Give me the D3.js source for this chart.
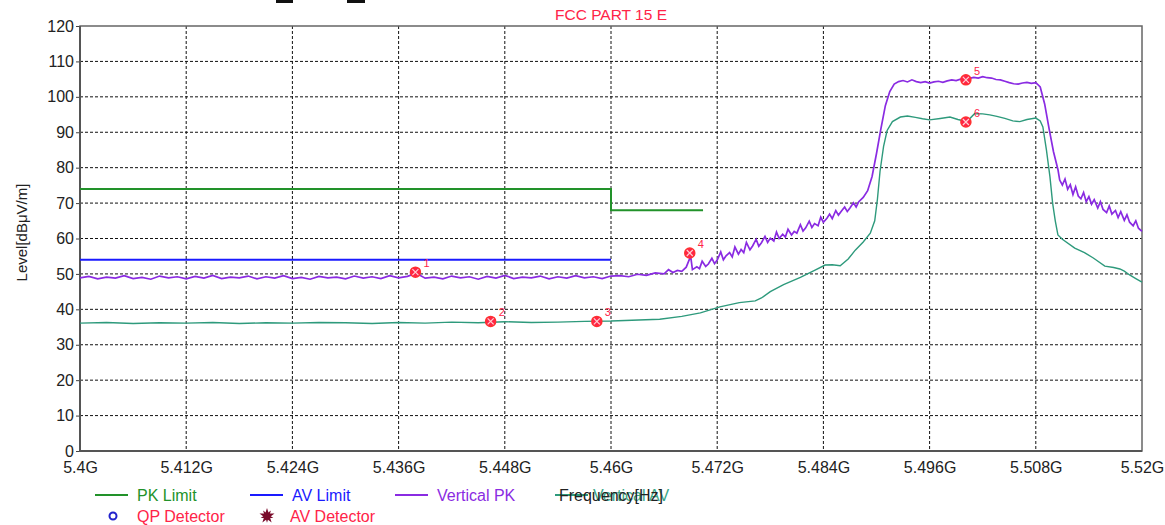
<!DOCTYPE html>
<html><head><meta charset="utf-8">
<script src="https://cdn.jsdelivr.net/npm/d3@7"></script>
<style>
html,body{margin:0;padding:0;background:#fff;}
svg{display:block;font-family:"Liberation Sans",Arial,sans-serif;}
</style></head>
<body><svg id="c" width="1165" height="525"></svg>
<script>
// ---- data (frequency in GHz, level in dBµV/m) ----
const titleText = "FCC PART 15 E";
const xTicks = [5.4,5.412,5.424,5.436,5.448,5.46,5.472,5.484,5.496,5.508,5.52];
const xTickLabels = ["5.4G","5.412G","5.424G","5.436G","5.448G","5.46G","5.472G","5.484G","5.496G","5.508G","5.52G"];
const yTicks = [0,10,20,30,40,50,60,70,80,90,100,110,120];

const pkLimit = [[5.4,74],[5.46,74],[5.46,68],[5.4704,68]];
const avLimit = [[5.4,54],[5.46,54]];

const verticalPK = [
[5.400,48.9],[5.401,49.3],[5.402,48.6],[5.403,49.1],[5.404,48.8],[5.405,49.5],[5.406,48.7],[5.407,49.0],[5.408,48.5],[5.409,49.4],
[5.410,48.9],[5.411,49.2],[5.412,48.6],[5.413,49.3],[5.414,48.8],[5.415,49.6],[5.416,48.7],[5.417,49.1],[5.418,48.9],[5.419,49.4],
[5.420,48.6],[5.421,49.2],[5.422,48.8],[5.423,49.5],[5.424,48.7],[5.425,49.0],[5.426,48.5],[5.427,49.3],[5.428,48.9],[5.429,49.1],
[5.430,48.6],[5.431,49.4],[5.432,48.8],[5.433,49.2],[5.434,48.7],[5.435,49.5],[5.436,48.9],[5.437,49.3],[5.438,50.2],[5.439,48.8],
[5.440,49.1],[5.441,48.6],[5.442,49.4],[5.443,48.9],[5.444,49.2],[5.445,48.5],[5.446,49.3],[5.447,48.8],[5.448,49.6],[5.449,48.7],
[5.450,49.1],[5.451,48.9],[5.452,49.4],[5.453,48.6],[5.454,49.2],[5.455,48.8],[5.456,49.5],[5.457,48.9],[5.458,49.2],[5.459,48.7],
[5.460,49.4],[5.461,49.5],[5.462,49.2],[5.463,49.9],[5.464,49.6],[5.465,50.3],[5.466,50.0],[5.4665,51.2],[5.467,50.4],[5.4675,51.0],
[5.468,50.7],[5.4685,51.9],[5.469,55.0],[5.4692,51.2],[5.4697,52.0],[5.470,51.5],[5.4703,53.6],[5.4707,52.1],[5.471,52.8],[5.4714,54.4],
[5.4717,52.9],[5.472,53.9],[5.4724,56.2],[5.4727,54.0],[5.473,55.1],[5.4734,56.0],[5.4737,54.8],[5.474,57.6],[5.4744,55.6],[5.4747,56.9],
[5.475,56.0],[5.4753,58.9],[5.4757,56.8],[5.476,57.9],[5.4764,59.8],[5.4767,57.8],[5.477,58.8],[5.4774,60.6],[5.4777,58.9],[5.478,60.1],
[5.4784,59.3],[5.4787,61.8],[5.479,60.0],[5.4794,61.2],[5.4797,60.4],[5.480,62.6],[5.4804,61.0],[5.4807,62.0],[5.481,61.5],[5.4814,63.9],
[5.4817,62.1],[5.482,63.0],[5.4824,64.9],[5.4827,63.1],[5.483,64.2],[5.4834,63.6],[5.4837,66.0],[5.484,64.6],[5.4844,65.7],[5.4847,66.9],
[5.485,65.6],[5.4854,67.9],[5.4857,66.6],[5.486,67.6],[5.4864,68.9],[5.4867,67.6],[5.487,68.6],[5.4874,70.1],[5.4877,68.9],[5.488,70.4],
[5.4885,71.6],[5.489,73.5],[5.4895,77.5],[5.490,84.0],[5.4905,91.0],[5.491,97.5],[5.4915,101.5],[5.492,103.6],
[5.4925,104.3],[5.493,104.6],[5.4935,104.2],[5.494,104.8],[5.4945,104.3],[5.495,104.0],[5.4955,104.3],[5.496,103.9],[5.4965,104.2],[5.497,104.4],
[5.4975,104.1],[5.498,104.5],[5.4985,104.8],[5.499,104.6],[5.4995,105.0],[5.500,104.8],[5.5005,105.2],[5.501,105.5],[5.5015,105.3],[5.502,105.7],
[5.5025,105.4],[5.503,105.3],[5.5035,104.9],[5.504,104.8],[5.5045,104.4],[5.505,104.0],[5.5055,103.7],[5.506,103.6],[5.5065,103.9],[5.507,104.1],
[5.5075,103.8],[5.508,104.0],[5.5085,102.8],[5.509,98.0],[5.5095,91.0],[5.510,84.5],[5.5105,79.5],[5.5107,76.5],[5.5110,75.1],[5.5113,76.8],
[5.5116,73.9],[5.5119,75.2],[5.5122,72.4],[5.5125,74.6],[5.5128,72.0],[5.5131,71.2],[5.5134,73.0],[5.5137,70.4],[5.514,71.8],[5.5143,69.7],
[5.5146,71.0],[5.515,68.6],[5.5153,70.4],[5.5156,68.2],[5.516,67.3],[5.5163,69.2],[5.5166,66.9],[5.517,67.9],[5.5173,65.9],[5.5176,67.6],
[5.518,65.1],[5.5183,66.7],[5.5186,64.6],[5.519,63.6],[5.5193,65.0],[5.5196,62.9],[5.520,62.0]
];

const verticalAV = [
[5.400,36.1],[5.403,36.3],[5.406,36.0],[5.409,36.2],[5.412,36.1],[5.415,36.3],[5.418,36.0],[5.421,36.2],[5.424,36.1],[5.427,36.3],
[5.430,36.2],[5.433,36.0],[5.436,36.3],[5.439,36.1],[5.442,36.4],[5.445,36.2],[5.448,36.5],[5.451,36.3],[5.454,36.4],[5.457,36.6],
[5.460,36.7],[5.4655,37.2],[5.468,38.0],[5.4701,39.0],[5.4723,40.7],[5.4745,41.9],[5.4763,42.4],[5.477,43.2],[5.478,45.0],[5.4795,47.0],
[5.4814,49.0],[5.483,51.0],[5.4842,52.5],[5.485,52.6],[5.4859,52.3],[5.4868,54.2],[5.4876,56.7],[5.4885,59.0],[5.4893,61.5],[5.4898,65.0],
[5.4901,71.0],[5.4904,79.0],[5.4908,86.0],[5.4912,90.5],[5.4918,93.0],[5.4927,94.3],[5.4935,94.6],[5.4944,94.2],[5.4952,93.8],[5.496,93.5],
[5.4972,93.9],[5.4983,94.3],[5.4992,93.6],[5.500,93.1],[5.5006,94.0],[5.5011,95.3],[5.502,95.2],[5.5028,94.9],[5.5036,94.5],[5.5045,93.9],
[5.5054,93.2],[5.5062,93.0],[5.507,93.6],[5.508,94.0],[5.5085,93.2],[5.5088,91.5],[5.5092,85.0],[5.5096,77.4],[5.5099,70.0],[5.5102,65.0],
[5.5105,61.0],[5.511,59.8],[5.5124,57.3],[5.5135,56.0],[5.5145,54.5],[5.5158,52.2],[5.5168,51.8],[5.5175,51.4],[5.518,50.8],[5.5186,49.7],
[5.5193,48.7],[5.520,47.7]
];

const markerIds = ["1","2","3","4","5","6"];
const markerFreq = [5.4379,5.4464,5.4584,5.4689,5.5001,5.5001];
const markerLevel = [50.5,36.6,36.6,55.9,104.8,92.9];

const legendRow1 = ["PK Limit","AV Limit","Vertical PK","Vertical AV"];
const legendRow2 = ["QP Detector","AV Detector"];

// ---- drawing ----
const svg = d3.select("#c");
const L = 80, R = 1142, T = 26, B = 451;
const x = d3.scaleLinear().domain([5.4, 5.52]).range([L, R]);
const y = d3.scaleLinear().domain([0, 120]).range([B, T]);

const col = {pk:"#22922a", av:"#1a1aff", vpk:"#8a2be2", vav:"#2e9a7c", red:"#ff2448"};

// stray marks at very top
svg.append("rect").attr("x",276).attr("y",0).attr("width",17).attr("height",3).attr("fill","#111");
svg.append("rect").attr("x",347).attr("y",0).attr("width",18).attr("height",3).attr("fill","#111");

// title
svg.append("text").attr("x",(L+R)/2).attr("y",20).attr("text-anchor","middle")
  .attr("font-size",15.5).attr("fill",col.red).text(titleText);

// grid
const grid = svg.append("g");
grid.selectAll("line.gy").data(yTicks.filter(d=>d>0&&d<120)).join("line")
  .attr("x1",L).attr("x2",R).attr("y1",d=>y(d)).attr("y2",d=>y(d))
  .attr("stroke","#111").attr("stroke-width",1).attr("stroke-dasharray","3,2");
grid.selectAll("line.gx").data(xTicks.filter(d=>d>5.4&&d<5.52)).join("line")
  .attr("y1",T).attr("y2",B).attr("x1",d=>x(d)).attr("x2",d=>x(d))
  .attr("stroke","#111").attr("stroke-width",1).attr("stroke-dasharray","3,2");

// axes
const yAxis = svg.append("g").attr("transform",`translate(${L},0)`)
  .call(d3.axisLeft(y).tickValues(yTicks).tickSize(4).tickPadding(2).tickFormat(d3.format("d")));
yAxis.select(".domain").remove();
yAxis.selectAll("text").attr("font-size",16).attr("fill","#222").attr("font-family","Liberation Sans, Arial, sans-serif");
yAxis.selectAll("line").attr("stroke","#444");

const xAxis = svg.append("g").attr("transform",`translate(0,${B})`)
  .call(d3.axisBottom(x).tickValues(xTicks).tickSize(0).tickPadding(11).tickFormat((d,i)=>xTickLabels[i]));
xAxis.select(".domain").remove();
xAxis.selectAll("text").attr("font-size",16).attr("fill","#222").attr("font-family","Liberation Sans, Arial, sans-serif");

// frame
svg.append("rect").attr("x",L).attr("y",T).attr("width",R-L).attr("height",B-T)
  .attr("fill","none").attr("stroke","#666").attr("stroke-width",1.5);
svg.append("line").attr("x1",L).attr("x2",L).attr("y1",T).attr("y2",B).attr("stroke","#555").attr("stroke-width",2);
svg.append("line").attr("x1",L).attr("x2",R).attr("y1",B).attr("y2",B).attr("stroke","#555").attr("stroke-width",2);

// axis titles
svg.append("text").attr("transform",`translate(27,${(T+B)/2 - 6}) rotate(-90)`)
  .attr("text-anchor","middle").attr("font-size",15).attr("fill","#222").text("Level[dBμV/m]");

// series
const line = d3.line().x(d=>x(d[0])).y(d=>y(d[1]));
const plot = svg.append("g");
plot.append("path").datum(pkLimit).attr("d",line).attr("fill","none").attr("stroke",col.pk).attr("stroke-width",2);
plot.append("path").datum(avLimit).attr("d",line).attr("fill","none").attr("stroke",col.av).attr("stroke-width",2);
plot.append("path").datum(verticalAV).attr("d",line).attr("fill","none").attr("stroke",col.vav).attr("stroke-width",1.4);
plot.append("path").datum(verticalPK).attr("d",line).attr("fill","none").attr("stroke",col.vpk).attr("stroke-width",1.7);

// markers
const mk = plot.selectAll("g.mk").data(markerIds).join("g")
  .attr("transform",(d,i)=>`translate(${x(markerFreq[i])},${y(markerLevel[i])})`);
mk.append("circle").attr("r",5).attr("fill",col.red).attr("stroke","#ff3030").attr("stroke-width",1.5);
mk.append("path").attr("d","M-3,-3L3,3M-3,3L3,-3").attr("stroke","#ffd0d0").attr("stroke-width",1.2);
mk.append("text").attr("x",8).attr("y",-5).attr("font-size",11).attr("fill",col.red).text(d=>d);

// legend row 1
const lg = svg.append("g").attr("font-size",16);
const lgX = [95,250,395,555];
const lgC = [col.pk,col.av,col.vpk,col.vav];
legendRow1.forEach((t,i)=>{
  lg.append("line").attr("x1",lgX[i]).attr("x2",lgX[i]+33).attr("y1",495).attr("y2",495).attr("stroke",lgC[i]).attr("stroke-width",2);
  lg.append("text").attr("x",lgX[i]+(i===3?38:42)).attr("y",501).attr("fill",i===3?"#3aa88a":lgC[i]).text(t);
});
// x axis title (overlaps the last legend entry, as in the original)
svg.append("text").attr("x",(L+R)/2).attr("y",501).attr("text-anchor","middle").attr("font-size",16).attr("fill","#222").text("Frequency[Hz]");
// legend row 2
lg.append("circle").attr("cx",113).attr("cy",516).attr("r",3.5).attr("fill","none").attr("stroke","#2222cc").attr("stroke-width",2);
lg.append("path").attr("transform","translate(267,516)").attr("d",d3.symbol(d3.symbolStar,70)()).attr("fill","#7a0a2a");
lg.append("path").attr("transform","translate(267,516) rotate(36)").attr("d",d3.symbol(d3.symbolStar,50)()).attr("fill","#7a0a2a");
lg.append("text").attr("x",137).attr("y",522).attr("fill",col.red).text(legendRow2[0]);
lg.append("text").attr("x",290).attr("y",522).attr("fill",col.red).text(legendRow2[1]);
</script>
</body></html>
